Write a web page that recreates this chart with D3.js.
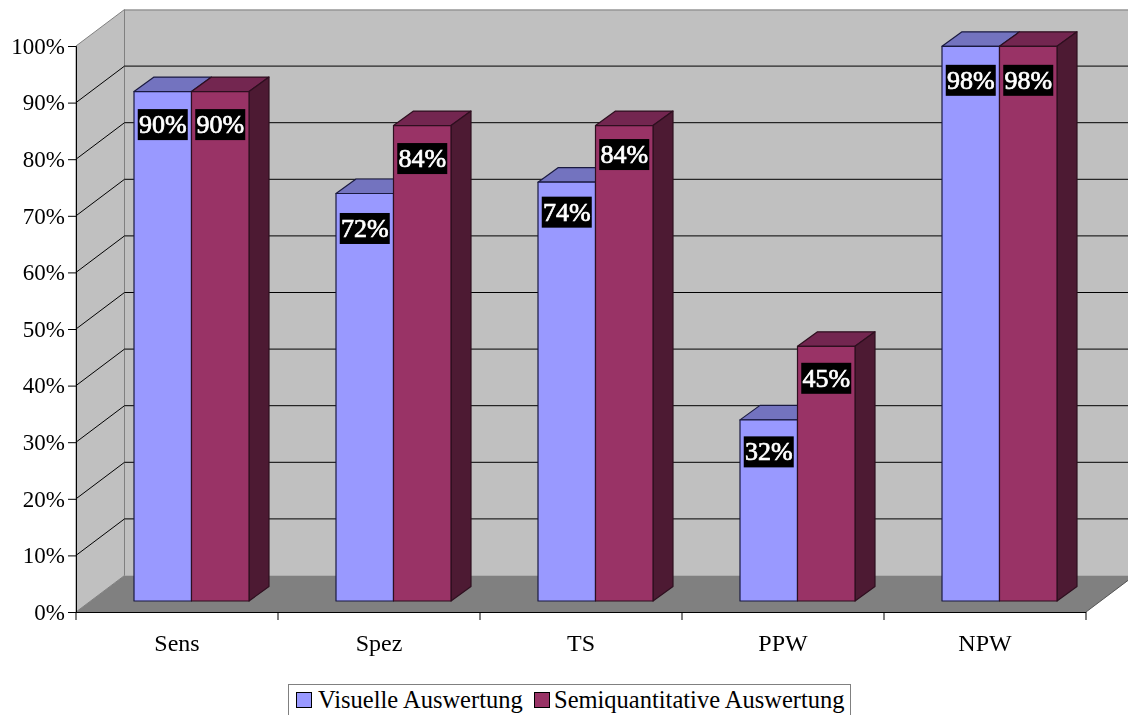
<!DOCTYPE html>
<html><head><meta charset="utf-8">
<script src="https://cdn.jsdelivr.net/npm/d3@7"></script>
<style>
html,body{margin:0;padding:0;background:#fff;overflow:hidden}
svg{display:block;filter:blur(0.35px)}
text{font-family:"Liberation Serif","Times New Roman",serif}
</style></head><body>
<svg id="c" width="1128" height="715"></svg>
<script>
const categories = ["Sens","Spez","TS","PPW","NPW"];
const seriesNames = ["Visuelle Auswertung","Semiquantitative Auswertung"];
const visuelle = [90,72,74,32,98];
const semiquant = [90,84,84,45,98];
const yTicks = [0,10,20,30,40,50,60,70,80,90,100];
const colors = {front:["#9999ff","#993366"],top:["#7373bf","#732650"],side:["#4d4d80","#4d1a33"],edge:["#1a1a40","#2e0f1f"]};

const W=1128,H=715;
const svg=d3.select("#c");
const left=76,right=1086,base=612,top100=46;
const wallDx=48.5,wallDy=-36.5;      // depth of the chart box
const barInDy=-11;                   // bars stand this far into the floor
const barDx=20,barDy=-14.5;          // depth of a bar
const labelShift=[[1,1],[3,1],[-2,-3],[0,0],[2,2]]; // per-category vertical placement of the data labels

const y=d3.scaleLinear().domain([0,100]).range([base,top100]);
const x0=d3.scaleBand().domain(categories).range([left,right]);
const x1=d3.scaleBand().domain(d3.range(seriesNames.length)).range([58,58+115]);
const poly=pts=>pts.map(p=>p.join(",")).join(" ");

// walls and floor
const g=svg.append("g");
g.append("polygon").attr("points",poly([[left+wallDx,y(100)+wallDy],[W+10,y(100)+wallDy],[W+10,y(0)+wallDy],[left+wallDx,y(0)+wallDy]]))
  .attr("fill","#c0c0c0");
g.append("line").attr("x1",left+wallDx).attr("x2",W).attr("y1",y(100)+wallDy+.5).attr("y2",y(100)+wallDy+.5).attr("stroke","#808080").attr("stroke-width",1);
g.append("polygon").attr("points",poly([[left,y(100)],[left+wallDx,y(100)+wallDy],[left+wallDx,y(0)+wallDy],[left,y(0)]]))
  .attr("fill","#c0c0c0").attr("stroke","#808080").attr("stroke-width",1);
g.append("polygon").attr("points",poly([[left,y(0)],[right,y(0)],[right+wallDx,y(0)+wallDy],[left+wallDx,y(0)+wallDy]]))
  .attr("fill","#808080");
g.append("line").attr("x1",right).attr("y1",y(0)).attr("x2",right+wallDx).attr("y2",y(0)+wallDy).attr("stroke","#555").attr("stroke-width",1);

// gridlines
yTicks.filter(t=>t>0&&t<100).forEach(t=>{
  g.append("polyline").attr("fill","none").attr("stroke","#000").attr("stroke-width",1)
   .attr("points",poly([[left,y(t)],[left+wallDx,y(t)+wallDy],[W,y(t)+wallDy]]));
});

// bars
const seriesValues=[visuelle,semiquant];
categories.forEach((c,i)=>{
  seriesValues.forEach((vals,s)=>{
    const v=vals[i];
    const bx=x0(c)+x1(s), bw=x1.bandwidth();
    const by=y(v)+barInDy, b0=y(0)+barInDy;
    const bar=svg.append("g").attr("stroke",colors.edge[s]).attr("stroke-width",1.2).attr("stroke-linejoin","round");
    bar.append("polygon").attr("fill",colors.top[s])
      .attr("points",poly([[bx,by],[bx+barDx,by+barDy],[bx+bw+barDx,by+barDy],[bx+bw,by]]));
    if(s===seriesValues.length-1||seriesValues[s+1][i]<v){
      bar.append("polygon").attr("fill",colors.side[s])
        .attr("points",poly([[bx+bw,by],[bx+bw+barDx,by+barDy],[bx+bw+barDx,b0+barDy],[bx+bw,b0]]));
    }
    bar.append("rect").attr("x",bx).attr("y",by).attr("width",bw).attr("height",b0-by).attr("fill",colors.front[s]);
  });
});
// labels on top of every bar
categories.forEach((c,i)=>{
  seriesValues.forEach((vals,s)=>{
    const v=vals[i];
    const cx=x0(c)+x1(s)+x1.bandwidth()/2, cy=y(v)+barInDy+32+labelShift[i][s];
    svg.append("rect").attr("x",cx-25).attr("y",cy-15.5).attr("width",50).attr("height",31).attr("fill","#000");
    svg.append("text").attr("x",cx).attr("y",cy+8.5).attr("text-anchor","middle")
      .attr("fill","#fff").attr("stroke","#fff").attr("stroke-width",.7).attr("font-size",26).text(v+"%");
  });
});

// axes
const ay=svg.append("g").attr("transform",`translate(${left},0)`)
  .call(d3.axisLeft(y).tickValues(yTicks).tickFormat(d=>d+"%").tickSize(8).tickPadding(3));
ay.select(".domain").attr("stroke","#000");
ay.selectAll("text").attr("font-size",23).attr("fill","#000").style("font-family",'"Liberation Serif",serif');
const ax=svg.append("g").attr("transform",`translate(0,${base})`)
  .call(d3.axisBottom(x0).tickSize(0).tickPadding(22));
ax.select(".domain").remove();
ax.selectAll("text").attr("font-size",24).attr("fill","#000").style("font-family",'"Liberation Serif",serif');
const edges=d3.range(categories.length+1).map(i=>left+i*x0.bandwidth());
svg.append("g").selectAll("line").data(edges).join("line")
  .attr("x1",d=>d).attr("x2",d=>d).attr("y1",base).attr("y2",base+8).attr("stroke","#000");
svg.append("line").attr("x1",left).attr("x2",right).attr("y1",base+.5).attr("y2",base+.5).attr("stroke","#000");

// legend
const lg=svg.append("g");
lg.append("rect").attr("x",288.5).attr("y",684.5).attr("width",562).attr("height",40).attr("fill","#fff").attr("stroke","#808080");
[[296,318],[534,554]].forEach(([sx,tx],s)=>{
  lg.append("rect").attr("x",sx+.5).attr("y",692.5).attr("width",15).attr("height",15).attr("fill",colors.front[s]).attr("stroke","#000");
  lg.append("text").attr("x",tx).attr("y",708).attr("font-size",24.5).attr("fill","#000").text(seriesNames[s]);
});
</script>
</body></html>
